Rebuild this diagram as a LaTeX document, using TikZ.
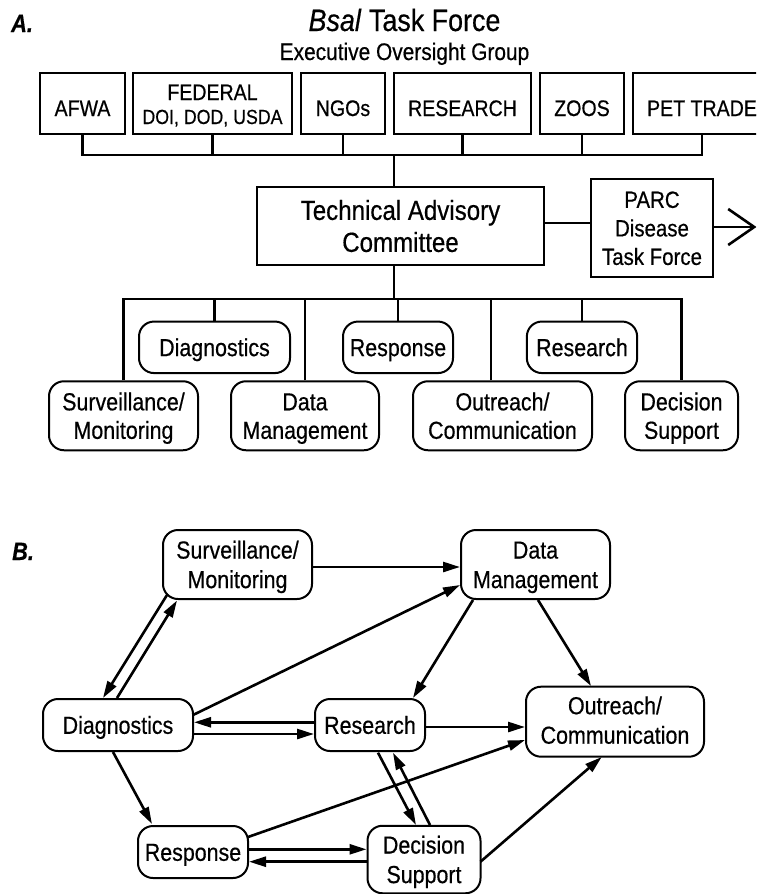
\documentclass[tikz,border=0pt]{standalone}
\usepackage{fontspec}
\setmainfont{Liberation Sans}[FakeStretch=0.87,FakeBold=0.5]
\usetikzlibrary{arrows.meta,calc}
\newcommand{\lblAfont}{\fontsize{24.6}{28.5}\selectfont}
\newcommand{\lblBfont}{\fontsize{24.6}{29.5}\selectfont}
\begin{document}
\begin{tikzpicture}[x=1pt,y=-1pt,
  sq/.style={draw, line width=2pt, inner sep=0pt, align=center, text depth=0pt},
  rb/.style={draw, line width=2pt, rounded corners=15pt, inner sep=0pt, align=center, text depth=0pt},
  topbox/.style={sq, minimum height=61pt, text height=25pt, font=\fontsize{22.5}{24}\selectfont},
  rba/.style={rb, font=\lblAfont, text height=17.6pt},
  rba2/.style={rb, font=\lblAfont, text height=46.1pt},
  rbb/.style={rb, font=\lblBfont, text height=17.6pt},
  rbb2/.style={rb, font=\lblBfont, text height=47.1pt},
  ln/.style={line width=2.6pt},
  ar/.style={line width=2.6pt, -{Triangle[length=17pt,width=10pt]}},
]
\useasboundingbox (0,0) rectangle (756,894);
\clip (0,0) rectangle (756,894);

% ---------------- Part A ----------------
\node[anchor=base west, inner sep=0pt, font=\fontsize{25}{28}\selectfont\bfseries\itshape] (la) at (11,32) {A.};
\node[anchor=base, inner sep=0pt, font=\fontsize{30.9}{34}\selectfont] (ttl) at (404.5,31) {\textit{Bsal} Task Force};
\node[anchor=base, inner sep=0pt, font=\fontsize{24}{28}\selectfont] (eog) at (404.5,60) {Executive Oversight Group};

\node[topbox, minimum width=85pt] (afwa) at (82.5,103.5) {AFWA};
\node[topbox, minimum width=159pt, text height=41pt] (fed) at (212.5,103.5) {FEDERAL\\{\fontsize{20.4}{22}\selectfont DOI, DOD, USDA}};
\node[topbox, minimum width=84pt] (ngo) at (343,103.5) {NGOs};
\node[topbox, minimum width=137pt] (rsh) at (462.5,103.5) {RESEARCH};
\node[topbox, minimum width=84pt] (zoo) at (582,103.5) {ZOOS};
\node[topbox, minimum width=138pt] (pet) at (702,103.5) {PET TRADE};

\coordinate (bt) at (394,155);
\draw[ln] (afwa.south) -- (afwa.south |- bt) -- (pet.south |- bt) -- (pet.south);
\foreach \n in {fed,ngo,rsh,zoo} \draw[ln] (\n.south) -- (\n.south |- bt);

\node[sq, minimum width=287pt, minimum height=78pt, text height=51.8pt, font=\fontsize{27.7}{32}\selectfont] (tac) at (400.5,226) {Technical Advisory\\Committee};
\draw[ln] (bt) -- (bt |- tac.north);

\node[sq, minimum width=122pt, minimum height=98pt, text height=73.8pt, font=\fontsize{23.5}{28.5}\selectfont] (parc) at (652,228) {PARC\\Disease\\Task Force};
\draw[ln] ($(tac.east)+(0,-3)$) -- ($(tac.east -| parc.west)+(0,-3)$);
\coordinate (tip) at (756.5,227);
\draw[line width=2.6pt, -{Straight Barb[length=26pt,width=36pt]}] (parc.east |- tip) -- (tip);

\coordinate (bb) at (394,299);
\draw[ln] (bb |- tac.south) -- (bb);

\node[rba, minimum width=151pt, minimum height=51.5pt] (adiag) at (214.5,347.3) {Diagnostics};
\node[rba, minimum width=110pt, minimum height=51.5pt] (aresp) at (398,347.3) {Response};
\node[rba, minimum width=110.3pt, minimum height=51.5pt] (ares) at (582,347.3) {Research};
\node[rba2, minimum width=149pt, minimum height=69pt] (asurv) at (123.5,415.75) {Surveillance/\\Monitoring};
\node[rba2, minimum width=148pt, minimum height=69pt] (adm) at (305,415.75) {Data\\Management};
\node[rba2, minimum width=179pt, minimum height=69pt] (aout) at (502.5,415.75) {Outreach/\\Communication};
\node[rba2, minimum width=113pt, minimum height=69pt] (adec) at (681.5,415.75) {Decision\\Support};

\draw[ln] (asurv.north) -- (asurv.north |- bb) -- (adec.north |- bb) -- (adec.north);
\foreach \n in {adiag,adm,aresp,ares} \draw[ln] (\n.north) -- (\n.north |- bb);
\coordinate (ao) at ($(aout.north)+(-11.5,0)$);
\draw[ln] (ao) -- (ao |- bb);

% ---------------- Part B ----------------
\node[anchor=base west, inner sep=0pt, font=\fontsize{25}{28}\selectfont\bfseries\itshape] (lb) at (12,560) {B.};

\node[rbb2, minimum width=149pt, minimum height=69pt] (bsurv) at (237.5,564.5) {Surveillance/\\Monitoring};
\node[rbb2, minimum width=149pt, minimum height=69pt] (bdm) at (535.5,564.5) {Data\\Management};
\node[rbb, minimum width=150pt, minimum height=52pt] (bdiag) at (118,725) {Diagnostics};
\node[rbb, minimum width=110pt, minimum height=52pt] (bres) at (370,725) {Research};
\node[rbb2, minimum width=178pt, minimum height=70pt, text height=44pt] (bout) at (615,721.7) {Outreach/\\Communication};
\node[rbb, minimum width=110pt, minimum height=52pt] (bresp) at (193,852) {Response};
\node[rbb2, minimum width=113pt, minimum height=67.5pt] (bdec) at (424,859.5) {Decision\\Support};

% 1 surv -> dm
\draw[ar] ($(bsurv.east)+(0,2.5)$) -- ($(bdm.west)+(0,2.5)$);
% 2 diag -> dm
\draw[ar] ($(bdiag.center)+(75,-10)$) -- ($(bdm.center)+(-75.5,20.5)$);
% 3 dm -> research
\draw[ar] ($(bdm.center)+(-62.5,35.5)$) -- ($(bres.center)+(43,-27)$);
% 4 dm -> outreach
\draw[ar] ($(bdm.center)+(2.5,35.5)$) -- ($(bout.center)+(-24,-35.7)$);
% 5 surv <-> diag
\draw[ar] ($(bsurv.center)+(-70.5,30.5)$) -- ($(bdiag.center)+(-15,-27)$);
\draw[ar] ($(bdiag.center)+(-1,-27)$) -- ($(bsurv.center)+(-60.5,36)$);
% 6,7 research <-> diag
\draw[ar] ($(bres.west)+(0,-2.7)$) -- ($(bdiag.east)+(0,-2.7)$);
\draw[ar] ($(bdiag.east)+(0,9)$) -- ($(bres.west)+(0,9)$);
% 8 research -> outreach
\draw[ar] ($(bres.east)+(0,2)$) -- ($(bout.west)+(0,5.3)$);
% 9 diag -> response
\draw[ar] ($(bdiag.center)+(-5,27)$) -- ($(bresp.center)+(-41,-28)$);
% 10 response -> outreach
\draw[ar] ($(bresp.center)+(55,-15)$) -- ($(bout.center)+(-90,18.3)$);
% 11,12 response <-> decision
\draw[ar] ($(bresp.east)+(0,-2.7)$) -- ($(bdec.west)+(0,-10.2)$);
\draw[ar] ($(bdec.west)+(0,2.2)$) -- ($(bresp.east)+(0,9.7)$);
% 13,14 research <-> decision
\draw[ar] ($(bres.center)+(8,27.7)$) -- ($(bdec.center)+(-8,-34.5)$);
\draw[ar] ($(bdec.center)+(6,-34.5)$) -- ($(bres.center)+(23,27.7)$);
% 15 decision -> outreach
\draw[ar] ($(bdec.center)+(56.5,2.2)$) -- ($(bout.center)+(-13.3,35.3)$);
\end{tikzpicture}
\end{document}
